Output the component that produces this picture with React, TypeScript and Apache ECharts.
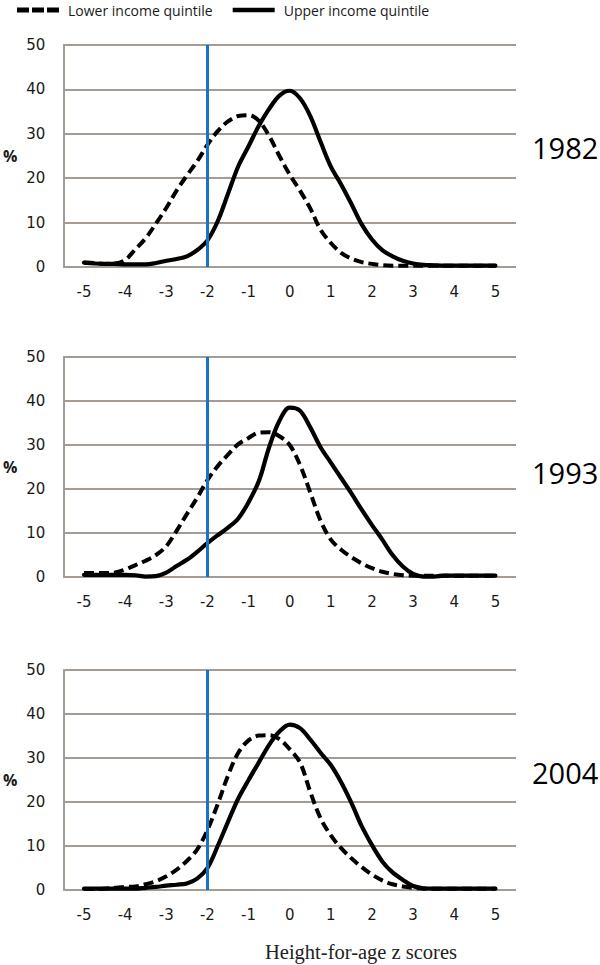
import React, { useEffect, useRef } from 'react';
import * as echarts from 'echarts';

const Z = [
  -5, -4.75, -4.5, -4.25, -4, -3.75, -3.5, -3.25, -3, -2.75, -2.5, -2.25, -2,
  -1.75, -1.5, -1.25, -1, -0.75, -0.5, -0.25, 0, 0.25, 0.5, 0.75, 1, 1.25, 1.5,
  1.75, 2, 2.25, 2.5, 2.75, 3, 3.25, 3.5, 3.75, 4, 4.25, 4.5, 4.75, 5,
];

const YEARS = ['1982', '1993', '2004'];

const LOWER_1982 = [
  1.0, 0.9, 0.7, 0.8, 1.6, 4.0, 6.5, 9.8, 13.3, 17.2, 20.6, 23.8, 27.5, 30.6, 32.8,
  34.0, 34.2, 32.9, 29.5, 25.0, 20.8, 17.2, 13.2, 8.4, 5.4, 3.2, 1.9, 1.1, 0.7, 0.4,
  0.3, 0.3, 0.3, 0.3, 0.3, 0.3, 0.3, 0.3, 0.3, 0.3, 0.3,
];
const UPPER_1982 = [
  1.0, 0.8, 0.7, 0.7, 0.6, 0.6, 0.6, 0.9, 1.4, 1.8, 2.4, 3.8, 6.0, 10.3, 16.5,
  22.7, 27.2, 31.8, 35.6, 38.6, 39.7, 38.0, 34.0, 28.2, 22.6, 18.6, 14.2, 9.6, 6.2,
  3.8, 2.4, 1.4, 0.8, 0.5, 0.4, 0.3, 0.3, 0.3, 0.3, 0.3, 0.3,
];
const LOWER_1993 = [
  0.9, 0.9, 0.9, 1.0, 1.7, 2.7, 3.7, 5.0, 7.0, 10.5, 14.3, 18.0, 22.0, 25.2, 27.8,
  30.2, 31.6, 32.8, 32.9, 32.0, 30.0, 25.5, 19.2, 12.8, 8.5, 6.2, 4.5, 3.1, 2.0,
  1.2, 0.7, 0.4, 0.3, 0.3, 0.3, 0.3, 0.3, 0.3, 0.3, 0.3, 0.3,
];
const UPPER_1993 = [
  0.5, 0.5, 0.5, 0.5, 0.5, 0.4, 0.1, 0.2, 1.0, 2.5, 3.9, 5.7, 7.7, 9.5, 11.2, 13.3,
  17.0, 21.8, 29.5, 35.5, 38.5, 37.8, 34.0, 29.5, 26.0, 22.5, 19.0, 15.3, 11.8, 8.5,
  5.0, 2.4, 0.7, 0.1, 0.1, 0.3, 0.3, 0.3, 0.3, 0.3, 0.3,
];
const LOWER_2004 = [
  0.2, 0.2, 0.3, 0.5, 0.7, 0.8, 1.3, 2.0, 3.1, 4.6, 6.6, 9.2, 13.6, 19.5, 26.0,
  31.2, 34.0, 35.1, 35.2, 34.3, 32.0, 29.0, 22.3, 16.3, 12.4, 9.5, 7.2, 5.2, 3.5,
  2.2, 1.3, 0.8, 0.5, 0.3, 0.3, 0.3, 0.3, 0.3, 0.3, 0.3, 0.3,
];
const UPPER_2004 = [
  0.3, 0.3, 0.3, 0.3, 0.3, 0.3, 0.5, 0.7, 1.0, 1.2, 1.5, 2.6, 5.0, 10.0, 15.5, 20.8,
  25.0, 29.0, 33.0, 36.0, 37.6, 36.8, 34.2, 31.2, 28.4, 24.5, 19.8, 14.5, 10.2, 6.5,
  4.0, 2.3, 0.9, 0.4, 0.3, 0.3, 0.3, 0.3, 0.3, 0.3, 0.3,
];

const LOWER = [LOWER_1982, LOWER_1993, LOWER_2004];
const UPPER = [UPPER_1982, UPPER_1993, UPPER_2004];

const X_TICKS = ['-5', '-4', '-3', '-2', '-1', '0', '1', '2', '3', '4', '5'];
const Y_MIN = 0;
const Y_MAX = 50;
const Y_STEP = 10;
const CUTOFF = -2;
const LEGEND = ['Lower income quintile', 'Upper income quintile'];
const X_TITLE = 'Height-for-age z scores';

const FONT = '"Open Sans", "Noto Sans", sans-serif';
const TICK_FONT = '"DejaVu Sans", sans-serif';
const GRID_COLOR = '#a49c94';
const TEXT_COLOR = '#1a1a1a';

export default function App() {
  const ref = useRef<HTMLDivElement>(null);

  useEffect(() => {
    document.body.style.margin = '0';
    const chart = echarts.init(ref.current!, null, { renderer: 'svg' });

    const grids = [
      { left: 61, top: 45, width: 455, height: 222 },
      { left: 61, top: 357, width: 455, height: 220 },
      { left: 61, top: 670, width: 455, height: 220 },
    ];
    const yearY = [147, 472, 772];

    const xAxis: any[] = [];
    const yAxis: any[] = [];
    const series: any[] = [];

    grids.forEach((_, i) => {
      xAxis.push({
        type: 'category',
        gridIndex: i,
        data: X_TICKS,
        boundaryGap: true,
        axisLine: { show: false },
        axisTick: { show: false },
        splitLine: { show: false },
        axisLabel: { margin: 17, fontSize: 15, color: TEXT_COLOR, fontFamily: TICK_FONT },
      });
      xAxis.push({
        type: 'value',
        gridIndex: i,
        min: -5.5,
        max: 5.5,
        show: false,
      });
      yAxis.push({
        type: 'value',
        gridIndex: i,
        min: Y_MIN,
        max: Y_MAX,
        interval: Y_STEP,
        name: '%',
        nameLocation: 'middle',
        nameGap: 46,
        nameRotate: 0,
        nameTextStyle: { fontSize: 16, fontWeight: 'bold', color: TEXT_COLOR, fontFamily: FONT },
        axisLine: { show: true, onZero: false, lineStyle: { color: GRID_COLOR, width: 2 } },
        axisTick: { show: false },
        splitLine: { show: true, lineStyle: { color: GRID_COLOR, width: 2 } },
        axisLabel: { margin: 18, fontSize: 15, color: TEXT_COLOR, fontFamily: TICK_FONT },
      });
      series.push({
        name: LEGEND[0],
        type: 'line',
        xAxisIndex: 2 * i + 1,
        yAxisIndex: i,
        data: Z.map((z, k) => [z, LOWER[i][k]]),
        smooth: 0.35,
        symbol: 'none',
        color: '#000',
        lineStyle: { color: '#000', width: 4, type: [10, 5], cap: 'butt' },
        z: 3,
      });
      series.push({
        name: LEGEND[1],
        type: 'line',
        xAxisIndex: 2 * i + 1,
        yAxisIndex: i,
        data: Z.map((z, k) => [z, UPPER[i][k]]),
        smooth: 0.35,
        symbol: 'none',
        color: '#000',
        lineStyle: { color: '#000', width: 4.2, type: 'solid', cap: 'round', join: 'round' },
        z: 3,
        markLine: {
          silent: true,
          symbol: ['none', 'none'],
          label: { show: false },
          lineStyle: { color: '#1a72c4', width: 3, type: 'solid' },
          data: [{ xAxis: CUTOFF }],
          z: 5,
        },
      });
    });

    const graphic: any[] = YEARS.map((yr, i) => ({
      type: 'text',
      x: 532,
      y: yearY[i],
      style: {
        text: yr,
        fontSize: 29,
        fontFamily: FONT,
        fill: '#000',
        align: 'left',
        verticalAlign: 'middle',
      },
    }));
    graphic.push({
      type: 'text',
      x: 361,
      y: 952,
      style: {
        text: X_TITLE,
        fontSize: 20.5,
        fontFamily: '"Liberation Serif", "DejaVu Serif", serif',
        fill: '#222',
        align: 'center',
        verticalAlign: 'middle',
      },
    });

    chart.setOption({
      animation: false,
      backgroundColor: '#fff',
      legend: {
        data: [
          {
            name: LEGEND[0],
            icon: 'path://M0,0h12v5h-12z M15,0h12v5h-12z M30,0h12v5h-12z',
          },
          { name: LEGEND[1], icon: 'path://M0,0h46v5h-46z' },
        ],
        left: 17,
        top: 3,
        padding: 0,
        itemWidth: 42,
        itemHeight: 5,
        itemGap: 20,
        textStyle: {
          fontSize: 14,
          color: TEXT_COLOR,
          fontFamily: FONT,
          padding: [0, 0, 0, 4],
        },
      },
      grid: grids,
      xAxis,
      yAxis,
      series,
      graphic,
    });

    return () => chart.dispose();
  }, []);

  return <div ref={ref} style={{ width: 600, height: 965 }} />;
}
